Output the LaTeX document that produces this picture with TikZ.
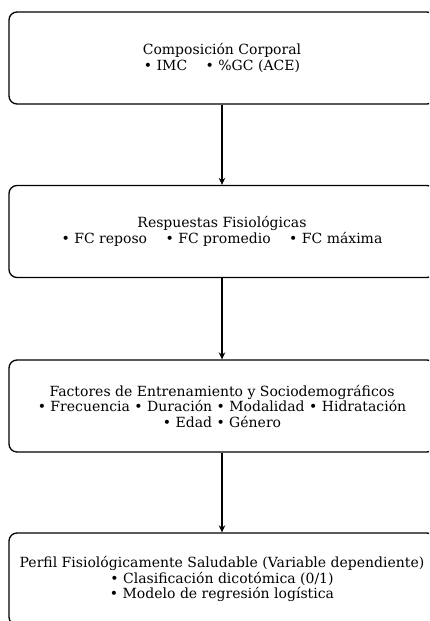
\documentclass[tikz,border=0pt]{standalone}
\usepackage{fontspec}
\setmainfont{DejaVu Serif}
\usetikzlibrary{arrows.meta}
\tikzset{
  flowbox/.style={draw=black, line width=1.3pt, rounded corners=8pt,
    minimum width=426pt, minimum height=92pt, align=center,
    font=\fontsize{14}{15.5}\selectfont, inner sep=0pt},
  flowarrow/.style={draw=black, line width=1.3pt, -{Stealth[length=7pt,width=6.5pt]}}
}
\begin{document}
\begin{tikzpicture}[x=1pt,y=-1pt]
\useasboundingbox (0,0) rectangle (429,621);
\clip (0,0) rectangle (429,621);
\fill[white] (0,0) rectangle (429,621);
\node[flowbox] (b1) at (222,58) {Composición Corporal\\• IMC \quad • \%GC (ACE)};
\node[flowbox] (b2) at (222,231.5) {Respuestas Fisiológicas\\• FC reposo \quad • FC promedio \quad • FC máxima};
\node[flowbox] (b3) at (222,406) {Factores de Entrenamiento y Sociodemográficos\\• Frecuencia • Duración • Modalidad • Hidratación\\• Edad • Género};
\node[flowbox] (b4) at (222,579) {Perfil Fisiológicamente Saludable (Variable dependiente)\\• Clasificación dicotómica (0/1)\\• Modelo de regresión logística};
\draw[flowarrow] (b1.south) -- (b2.north);
\draw[flowarrow] (b2.south) -- (b3.north);
\draw[flowarrow] (b3.south) -- (b4.north);
\end{tikzpicture}
\end{document}
